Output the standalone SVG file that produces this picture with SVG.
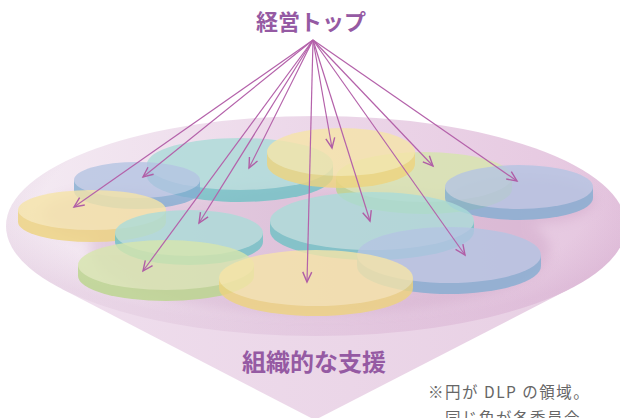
<svg xmlns="http://www.w3.org/2000/svg" width="620" height="418" viewBox="0 0 620 418">
<defs>
  <linearGradient id="baseGrad" x1="0" y1="0" x2="1" y2="0">
    <stop offset="0" stop-color="#f4ebf3"/>
    <stop offset="0.5" stop-color="#ecd7e9"/>
    <stop offset="1" stop-color="#e5c6df"/>
  </linearGradient>
  <linearGradient id="coneGrad" x1="0" y1="0" x2="1" y2="0">
    <stop offset="0" stop-color="#efdeed"/>
    <stop offset="1" stop-color="#e8d0e4"/>
  </linearGradient>
  <radialGradient id="rimGrad" cx="0.5" cy="0.4" r="0.55">
    <stop offset="0.8" stop-color="#b070a8" stop-opacity="0"/>
    <stop offset="1" stop-color="#b070a8" stop-opacity="0.14"/>
  </radialGradient>
  <filter id="soft" x="-20%" y="-20%" width="140%" height="140%">
    <feGaussianBlur stdDeviation="6"/>
  </filter>
  <marker id="arr" markerUnits="userSpaceOnUse" markerWidth="14" markerHeight="12" viewBox="-11 -6 13 12" refX="0" refY="0" orient="auto">
    <path d="M -10,-4.5 L 0,0 L -10,4.5" fill="none" stroke="#b05ea6" stroke-width="1.4" stroke-linejoin="miter"/>
  </marker>
  <style>
    .disc { opacity: 0.8; }
    .blue .side { fill: #84aed2; } .blue .top { fill: #b5c5e3; }
    .teal .side { fill: #6fc2c5; } .teal .top { fill: #abdcd9; }
    .yellow .side { fill: #eed47e; } .yellow .top { fill: #f6e5a8; }
    .green .side { fill: #bad68b; } .green .top { fill: #d7e6ad; }
    .conn line { stroke: #b462aa; stroke-width: 1.2; marker-end: url(#arr); }
    .title { font-family: "Noto Sans CJK JP", "Noto Sans", sans-serif; font-weight: bold; fill: #955aa3; text-anchor: middle; }
    .note { font-family: "Noto Sans CJK JP", "Noto Sans", sans-serif; fill: #666666; font-size: 15.5px; letter-spacing: 1.5px; }
  </style>
</defs>

<g id="base">
  <path d="M 61,288.5 L 315,420 L 570,288.8 Z" fill="url(#coneGrad)"/>
  <ellipse cx="316" cy="226" rx="310" ry="110" fill="url(#baseGrad)"/>
  <ellipse cx="316" cy="226" rx="310" ry="110" fill="url(#rimGrad)"/>
  <g filter="url(#soft)" fill="#b27aa8" opacity="0.22">
    <ellipse cx="320" cy="250" rx="230" ry="65"/>
    <ellipse cx="120" cy="215" rx="80" ry="25"/>
    <ellipse cx="520" cy="200" rx="75" ry="25"/>
  </g>
</g>

<g id="disc-teal-big" class="disc teal">
  <path class="side" d="M 147,164 L 147,176 A 93 26 0 0 0 333,176 L 333,164 Z"/>
  <ellipse class="top" cx="240" cy="164" rx="93" ry="26"/>
</g>
<g id="disc-green-right" class="disc green">
  <path class="side" d="M 336,177 L 336,189 A 88 25 0 0 0 512,189 L 512,177 Z"/>
  <ellipse class="top" cx="424" cy="177" rx="88" ry="25"/>
</g>
<g id="disc-yellow-top" class="disc yellow">
  <path class="side" d="M 267,152 L 267,164 A 74 24 0 0 0 415,164 L 415,152 Z"/>
  <ellipse class="top" cx="341" cy="152" rx="74" ry="24"/>
</g>
<g id="disc-blue-left" class="disc blue">
  <path class="side" d="M 74,180 L 74,191 A 63 18 0 0 0 200,191 L 200,180 Z"/>
  <ellipse class="top" cx="137" cy="180" rx="63" ry="18"/>
</g>
<g id="disc-blue-right" class="disc blue">
  <path class="side" d="M 445,187 L 445,198 A 74 22 0 0 0 593,198 L 593,187 Z"/>
  <ellipse class="top" cx="519" cy="187" rx="74" ry="22"/>
</g>
<g id="disc-yellow-left" class="disc yellow">
  <path class="side" d="M 18,210 L 18,222 A 74 20 0 0 0 166,222 L 166,210 Z"/>
  <ellipse class="top" cx="92" cy="210" rx="74" ry="20"/>
</g>
<g id="disc-teal-midright" class="disc teal">
  <path class="side" d="M 270,221 L 270,231 A 102 29 0 0 0 474,231 L 474,221 Z"/>
  <ellipse class="top" cx="372" cy="221" rx="102" ry="29"/>
</g>
<g id="disc-teal-midleft" class="disc teal">
  <path class="side" d="M 115,233 L 115,242 A 74 23 0 0 0 263,242 L 263,233 Z"/>
  <ellipse class="top" cx="189" cy="233" rx="74" ry="23"/>
</g>
<g id="disc-blue-bottom" class="disc blue">
  <path class="side" d="M 357,255 L 357,266 A 92 28 0 0 0 541,266 L 541,255 Z"/>
  <ellipse class="top" cx="449" cy="255" rx="92" ry="28"/>
</g>
<g id="disc-green-bottom" class="disc green">
  <path class="side" d="M 78,265 L 78,276 A 88 25 0 0 0 254,276 L 254,265 Z"/>
  <ellipse class="top" cx="166" cy="265" rx="88" ry="25"/>
</g>
<g id="disc-yellow-bottom" class="disc yellow">
  <path class="side" d="M 219,278 L 219,288 A 97 28 0 0 0 413,288 L 413,278 Z"/>
  <ellipse class="top" cx="316" cy="278" rx="97" ry="28"/>
</g>

<g id="connectors" class="conn">
  <line x1="313" y1="40" x2="74" y2="207"/>
  <line x1="313" y1="40" x2="143" y2="177"/>
  <line x1="313" y1="40" x2="199" y2="223"/>
  <line x1="313" y1="40" x2="143" y2="271"/>
  <line x1="313" y1="40" x2="249" y2="168"/>
  <line x1="313" y1="40" x2="307" y2="282"/>
  <line x1="313" y1="40" x2="332" y2="148"/>
  <line x1="313" y1="40" x2="370" y2="221"/>
  <line x1="313" y1="40" x2="433" y2="166"/>
  <line x1="313" y1="40" x2="465" y2="255"/>
  <line x1="313" y1="40" x2="517" y2="181"/>
</g>

<g id="label-top">
  <text class="title" x="311" y="30" font-size="22">経営トップ</text>
</g>
<g id="label-bottom">
  <text class="title" x="314" y="371" font-size="24">組織的な支援</text>
</g>
<g id="note">
  <text class="note" x="428" y="398">※円が DLP の領域。</text>
  <text class="note" x="445" y="424">同じ色が各委員会。</text>
</g>
</svg>
